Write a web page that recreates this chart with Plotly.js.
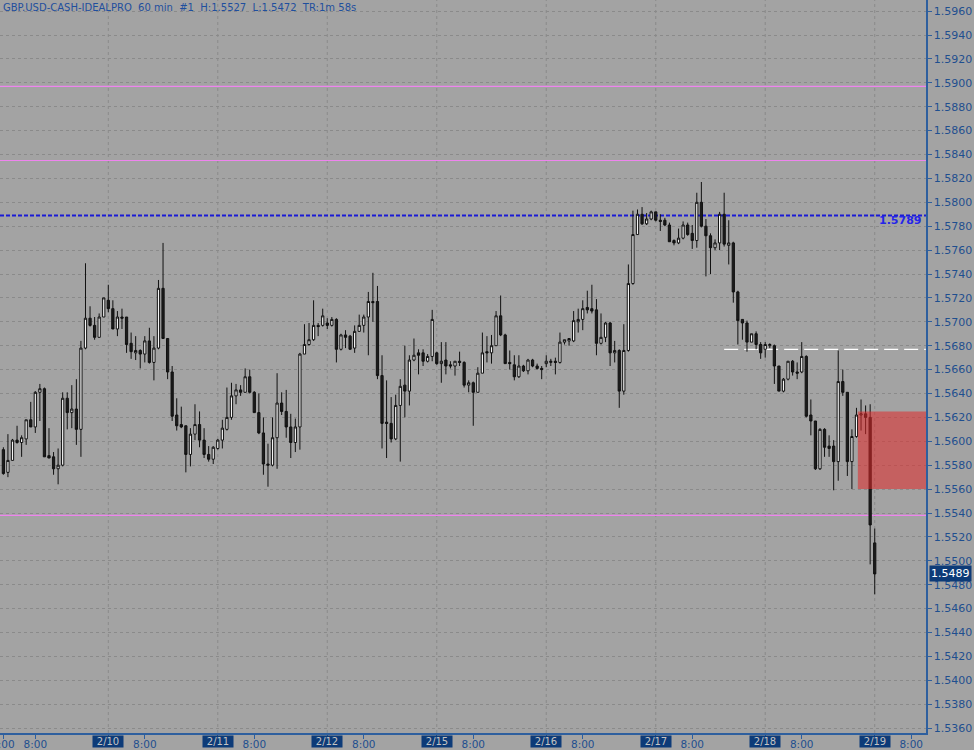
<!DOCTYPE html>
<html>
<head>
<meta charset="utf-8">
<script src="https://cdn.plot.ly/plotly-3.0.1.min.js"></script>
<style>
html,body{margin:0;padding:0;background:#a3a3a3;}
#chart{width:974px;height:750px;}
</style>
</head>
<body>
<div id="chart"></div>
<script>
// Hourly bars of GBP.USD, bar 0 = 2/9 1:00
const openP = [
1.5593,1.5574,1.5584,1.5601,1.5599,1.5602,1.5618,1.5612,1.5641,1.5644,
1.5588,1.5587,1.5577,1.5580,1.5636,1.5624,1.5627,1.5610,1.5678,1.5703,
1.5697,1.5687,1.5704,1.5718,1.5711,1.5694,1.5704,1.5704,1.5682,1.5674,
1.5676,1.5673,1.5684,1.5666,1.5678,1.5728,1.5686,1.5658,1.5622,1.5614,
1.5613,1.5589,1.5606,1.5614,1.5601,1.5589,1.5585,1.5594,1.5601,1.5610,
1.5620,1.5638,1.5643,1.5641,1.5654,1.5641,1.5624,1.5607,1.5581,1.5580,
1.5603,1.5632,1.5625,1.5612,1.5599,1.5612,1.5673,1.5681,1.5685,1.5697,
1.5697,1.5699,1.5697,1.5702,1.5677,1.5689,1.5688,1.5678,1.5692,1.5697,
1.5704,1.5717,1.5717,1.5655,1.5616,1.5615,1.5602,1.5630,1.5647,1.5642,
1.5668,1.5674,1.5674,1.5667,1.5671,1.5674,1.5665,1.5668,1.5664,1.5663,
1.5667,1.5666,1.5647,1.5649,1.5641,1.5657,1.5675,1.5674,1.5680,1.5705,
1.5689,1.5666,1.5664,1.5654,1.5663,1.5659,1.5668,1.5663,1.5661,1.5665,
1.5666,1.5667,1.5666,1.5683,1.5684,1.5684,1.5700,1.5702,1.5712,1.5711,
1.5710,1.5682,1.5687,1.5699,1.5674,1.5676,1.5642,1.5676,1.5732,1.5773,
1.5790,1.5782,1.5786,1.5792,1.5785,1.5785,1.5781,1.5768,1.5766,1.5770,
1.5781,1.5774,1.5768,1.5800,1.5780,1.5772,1.5762,1.5766,1.5790,1.5764,
1.5766,1.5725,1.5702,1.5699,1.5683,1.5690,1.5681,1.5677,1.5680,1.5680,
1.5663,1.5642,1.5652,1.5667,1.5658,1.5658,1.5671,1.5622,1.5617,1.5577,
1.5610,1.5596,1.5596,1.5583,1.5650,1.5641,1.5583,1.5604,1.5622,1.5623,
1.5620,1.5515];
const highP = [
1.5595,1.5606,1.5602,1.5613,1.5605,1.5618,1.5633,1.5642,1.5648,1.5645,
1.5611,1.5591,1.5594,1.5641,1.5641,1.5647,1.5652,1.5684,1.5749,1.5713,
1.5704,1.5707,1.5720,1.5731,1.5718,1.5709,1.5711,1.5704,1.5691,1.5688,
1.5677,1.5688,1.5695,1.5688,1.5735,1.5766,1.5686,1.5663,1.5636,1.5629,
1.5613,1.5611,1.5631,1.5625,1.5611,1.5596,1.5596,1.5602,1.5618,1.5645,
1.5649,1.5648,1.5647,1.5661,1.5660,1.5642,1.5640,1.5620,1.5598,1.5620,
1.5657,1.5641,1.5643,1.5623,1.5619,1.5674,1.5698,1.5699,1.5718,1.5699,
1.5711,1.5703,1.5704,1.5703,1.5690,1.5693,1.5689,1.5697,1.5706,1.5706,
1.5725,1.5741,1.5730,1.5672,1.5651,1.5637,1.5639,1.5652,1.5680,1.5672,
1.5686,1.5677,1.5677,1.5673,1.5710,1.5675,1.5683,1.5683,1.5667,1.5667,
1.5675,1.5667,1.5651,1.5650,1.5662,1.5691,1.5688,1.5689,1.5709,1.5722,
1.5690,1.5676,1.5672,1.5672,1.5664,1.5669,1.5669,1.5665,1.5663,1.5672,
1.5669,1.5670,1.5691,1.5685,1.5686,1.5709,1.5711,1.5718,1.5726,1.5731,
1.5719,1.5707,1.5700,1.5700,1.5684,1.5677,1.5698,1.5748,1.5793,1.5794,
1.5796,1.5791,1.5793,1.5792,1.5790,1.5787,1.5783,1.5769,1.5778,1.5784,
1.5783,1.5781,1.5808,1.5817,1.5786,1.5774,1.5769,1.5792,1.5808,1.5785,
1.5767,1.5726,1.5702,1.5701,1.5690,1.5692,1.5683,1.5683,1.5682,1.5681,
1.5663,1.5653,1.5667,1.5668,1.5666,1.5683,1.5672,1.5635,1.5617,1.5611,
1.5611,1.5605,1.5601,1.5676,1.5660,1.5641,1.5610,1.5628,1.5635,1.5630,
1.5631,1.5527];
const lowP = [
1.5572,1.5570,1.5584,1.5598,1.5587,1.5597,1.5612,1.5607,1.5617,1.5587,
1.5586,1.5572,1.5564,1.5579,1.5610,1.5611,1.5597,1.5587,1.5677,1.5696,
1.5685,1.5687,1.5704,1.5708,1.5694,1.5688,1.5694,1.5674,1.5669,1.5668,
1.5661,1.5666,1.5665,1.5651,1.5677,1.5686,1.5652,1.5617,1.5609,1.5611,
1.5574,1.5579,1.5601,1.5595,1.5586,1.5583,1.5581,1.5593,1.5594,1.5609,
1.5618,1.5631,1.5638,1.5641,1.5640,1.5624,1.5606,1.5572,1.5562,1.5579,
1.5577,1.5622,1.5603,1.5586,1.5591,1.5593,1.5673,1.5680,1.5684,1.5688,
1.5696,1.5694,1.5696,1.5666,1.5676,1.5678,1.5677,1.5674,1.5692,1.5691,
1.5672,1.5700,1.5652,1.5594,1.5586,1.5599,1.5601,1.5583,1.5620,1.5630,
1.5667,1.5656,1.5663,1.5666,1.5667,1.5664,1.5649,1.5656,1.5661,1.5655,
1.5663,1.5645,1.5641,1.5613,1.5641,1.5657,1.5666,1.5665,1.5680,1.5688,
1.5665,1.5660,1.5651,1.5653,1.5658,1.5656,1.5662,1.5660,1.5652,1.5662,
1.5663,1.5656,1.5665,1.5681,1.5680,1.5683,1.5691,1.5693,1.5707,1.5707,
1.5672,1.5681,1.5683,1.5663,1.5666,1.5628,1.5639,1.5675,1.5731,1.5773,
1.5781,1.5781,1.5785,1.5784,1.5776,1.5780,1.5767,1.5764,1.5765,1.5769,
1.5772,1.5761,1.5762,1.5779,1.5738,1.5740,1.5760,1.5760,1.5763,1.5748,
1.5716,1.5681,1.5685,1.5675,1.5683,1.5677,1.5669,1.5670,1.5678,1.5648,
1.5642,1.5641,1.5651,1.5655,1.5652,1.5657,1.5620,1.5605,1.5576,1.5576,
1.5587,1.5587,1.5559,1.5567,1.5638,1.5571,1.5560,1.5603,1.5609,1.5606,
1.5497,1.5472];
const closeP = [
1.5573,1.5584,1.5601,1.5599,1.5603,1.5618,1.5612,1.5641,1.5644,1.5587,
1.5586,1.5577,1.5580,1.5636,1.5624,1.5627,1.5610,1.5678,1.5703,1.5697,
1.5687,1.5704,1.5720,1.5711,1.5694,1.5704,1.5703,1.5681,1.5675,1.5676,
1.5673,1.5684,1.5666,1.5678,1.5728,1.5686,1.5658,1.5621,1.5613,1.5612,
1.5589,1.5606,1.5614,1.5601,1.5589,1.5585,1.5595,1.5601,1.5611,1.5620,
1.5638,1.5643,1.5641,1.5654,1.5641,1.5624,1.5607,1.5581,1.5580,1.5603,
1.5632,1.5625,1.5612,1.5599,1.5612,1.5673,1.5681,1.5685,1.5697,1.5696,
1.5705,1.5697,1.5702,1.5677,1.5689,1.5687,1.5677,1.5692,1.5697,1.5704,
1.5717,1.5716,1.5655,1.5615,1.5615,1.5602,1.5630,1.5646,1.5642,1.5668,
1.5672,1.5672,1.5667,1.5671,1.5702,1.5665,1.5667,1.5663,1.5663,1.5667,
1.5666,1.5647,1.5649,1.5641,1.5657,1.5674,1.5674,1.5680,1.5705,1.5689,
1.5665,1.5665,1.5654,1.5663,1.5659,1.5668,1.5663,1.5661,1.5660,1.5667,
1.5667,1.5666,1.5683,1.5685,1.5686,1.5701,1.5702,1.5711,1.5710,1.5709,
1.5682,1.5687,1.5699,1.5674,1.5676,1.5642,1.5676,1.5732,1.5773,1.5790,
1.5782,1.5786,1.5792,1.5785,1.5784,1.5781,1.5767,1.5766,1.5770,1.5781,
1.5773,1.5768,1.5800,1.5780,1.5772,1.5762,1.5766,1.5790,1.5765,1.5766,
1.5725,1.5701,1.5699,1.5683,1.5690,1.5681,1.5674,1.5681,1.5681,1.5663,
1.5642,1.5652,1.5667,1.5658,1.5657,1.5671,1.5621,1.5617,1.5577,1.5610,
1.5595,1.5594,1.5583,1.5650,1.5641,1.5583,1.5604,1.5622,1.5623,1.5620,
1.5530,1.5489];

// axis labels
const dateIdx    = [23, 47, 71, 95, 119, 143, 167, 191];
const dateLabels = ['2/10','2/11','2/12','2/15','2/16','2/17','2/18','2/19'];
const timeIdx    = [0, 7, 31, 55, 79, 103, 127, 151, 175, 199];
const timeLabels = ['1:00','8:00','8:00','8:00','8:00','8:00','8:00','8:00','8:00','8:00'];

// horizontal levels
const pinkLevels  = [1.5897, 1.5835, 1.5538];
const blueLevel   = 1.5789;
const whiteLevel  = 1.5677;
const whiteStart  = 158;
const zoneTop     = 1.5625;
const zoneBottom  = 1.5560;
const zoneStart   = 187.3;
const lastPrice   = 1.5489;
const headerText  = 'GBP.USD-CASH-IDEALPRO  60 min  #1  H:1.5527  L:1.5472  TR:1m 58s';

const xIdx = openP.map((_, i) => i);

const blue = '#1f4f8f';
const trace = {
  type: 'candlestick',
  x: xIdx, open: openP, high: highP, low: lowP, close: closeP,
  increasing: {line: {color: '#111111', width: 1}, fillcolor: '#f4f4f4'},
  decreasing: {line: {color: '#111111', width: 1}, fillcolor: '#1c1c1c'},
  whiskerwidth: 0,
  hoverinfo: 'skip',
  showlegend: false
};

const shapes = [];
dateIdx.forEach(d => shapes.push({
  type: 'line', xref: 'x', yref: 'paper', x0: d, x1: d, y0: 0, y1: 1,
  line: {color: '#8a8a8a', width: 1, dash: '3px,3px'}, layer: 'below'
}));
pinkLevels.forEach(p => shapes.push({
  type: 'line', xref: 'paper', yref: 'y', x0: 0, x1: 1, y0: p, y1: p,
  line: {color: '#ee84ee', width: 1.2}, layer: 'below'
}));
shapes.push({
  type: 'line', xref: 'paper', yref: 'y', x0: 0, x1: 1, y0: blueLevel, y1: blueLevel,
  line: {color: '#1a1ad6', width: 2, dash: '4px,2px'}, layer: 'below'
});
shapes.push({
  type: 'line', xref: 'x', yref: 'y', x0: whiteStart, x1: 202.2, y0: whiteLevel, y1: whiteLevel,
  line: {color: '#ffffff', width: 1.3, dash: '14px,6px'}, layer: 'below'
});
shapes.push({
  type: 'rect', xref: 'x', yref: 'y', x0: zoneStart, x1: 203, y0: zoneBottom, y1: zoneTop,
  fillcolor: 'rgba(225,41,41,0.55)', line: {width: 0}, layer: 'above'
});

const annotations = [];
dateIdx.forEach((d, k) => annotations.push({
  x: d, xref: 'x', y: 0, yref: 'paper', yanchor: 'top', yshift: -2,
  text: dateLabels[k], showarrow: false,
  font: {family: 'DejaVu Sans', size: 10, color: '#c4c4c4'},
  bgcolor: '#0d3b78', borderpad: 0, width: 30, height: 11
}));
annotations.push({
  x: timeIdx[0], xref: 'x', y: 0, yref: 'paper', yanchor: 'top', yshift: -3,
  text: timeLabels[0], showarrow: false,
  font: {family: 'DejaVu Sans', size: 10.5, color: blue}
});
annotations.push({
  x: 0, xref: 'paper', y: 1, yref: 'paper', xanchor: 'left', yanchor: 'top',
  xshift: 1, yshift: 0, text: headerText, showarrow: false,
  font: {family: 'DejaVu Sans', size: 10, color: '#1f4f9e'}
});
annotations.push({
  x: 1, xref: 'paper', y: blueLevel, yref: 'y', xanchor: 'right', yanchor: 'top',
  xshift: -3, yshift: 3, text: '<b>1.5789</b>', showarrow: false,
  font: {family: 'DejaVu Sans', size: 11, color: '#2525e8'}
});
annotations.push({
  x: 1, xref: 'paper', y: lastPrice, yref: 'y', xanchor: 'left', yanchor: 'middle',
  xshift: 3, text: lastPrice.toFixed(4), showarrow: false,
  font: {family: 'DejaVu Sans', size: 11, color: '#ffffff'},
  bgcolor: '#0d3b78', borderpad: 1
});

const layout = {
  width: 974, height: 750,
  margin: {l: 0, r: 48, t: 0, b: 17},
  paper_bgcolor: '#a3a3a3', plot_bgcolor: '#a3a3a3',
  showlegend: false,
  boxgap: 0.3,
  xaxis: {
    range: [-0.739, 202.24], fixedrange: true,
    rangeslider: {visible: false},
    tickmode: 'array',
    tickvals: timeIdx.slice(1).concat(dateIdx, [timeIdx[0]]),
    ticktext: timeLabels.slice(1).concat(dateIdx.map(() => ''), ['']),
    ticks: 'outside', ticklen: 4, tickcolor: '#2e5f9e', tickwidth: 1,
    ticklabelstandoff: -3,
    tickfont: {family: 'DejaVu Sans', size: 10.5, color: blue},
    showgrid: false, zeroline: false,
    showline: true, linecolor: '#2e5f9e', linewidth: 1.5
  },
  yaxis: {
    side: 'right',
    range: [1.53559, 1.596929], fixedrange: true,
    tickmode: 'linear', tick0: 1.5360, dtick: 0.002, tickformat: '.4f',
    ticks: 'outside', ticklen: 4, tickcolor: '#2e5f9e', tickwidth: 1,
    tickfont: {family: 'DejaVu Sans', size: 11, color: blue},
    showgrid: true, gridcolor: '#8a8a8a', griddash: '3px,3px', gridwidth: 1,
    zeroline: false,
    showline: true, linecolor: '#2e5f9e', linewidth: 1.5
  },
  shapes: shapes,
  annotations: annotations
};

Plotly.newPlot('chart', [trace], layout, {staticPlot: true, displayModeBar: false});
</script>
</body>
</html>
